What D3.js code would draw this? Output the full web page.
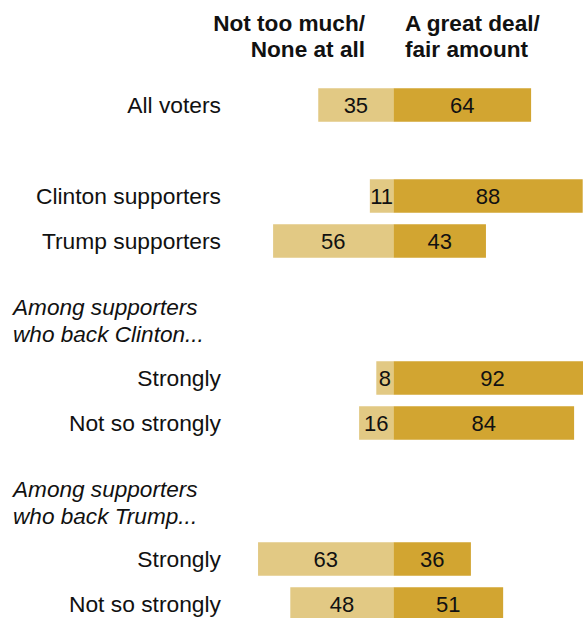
<!DOCTYPE html>
<html>
<head>
<meta charset="utf-8">
<script src="https://cdn.jsdelivr.net/npm/d3@7"></script>
<style>
  body { margin: 0; background: #fff; }
  svg text { font-family: "Liberation Sans", Roboto, sans-serif; fill: #111; }
</style>
</head>
<body>
<svg id="chart" width="583" height="618"></svg>
<script>
// Row labels, grouped into sections with italic intros
const categories = ["All voters", "Clinton supporters", "Trump supporters",
                    "Strongly (Clinton)", "Not so strongly (Clinton)",
                    "Strongly (Trump)", "Not so strongly (Trump)"];
const displayLabels = ["All voters", "Clinton supporters", "Trump supporters",
                       "Strongly", "Not so strongly", "Strongly", "Not so strongly"];
const notTooMuch = [35, 11, 56, 8, 16, 63, 48];
const greatDeal  = [64, 88, 43, 92, 84, 36, 51];
const sectionNotes = [
  ["Among supporters", "who back Clinton..."],
  ["Among supporters", "who back Trump..."]
];
const headers = { left: ["Not too much/", "None at all"], right: ["A great deal/", "fair amount"] };

const svg = d3.select("#chart");
const centerX = 393.5;
const pxPerUnit = 2.15;

// Vertical centers of each row
const rowCenters = [105, 196, 241, 378, 423, 559, 604];
const yPos = d3.scaleOrdinal().domain(categories).range(rowCenters);
const barH = 33.5;

const xRight = d3.scaleLinear().domain([0, 100]).range([centerX, centerX + 100 * pxPerUnit]);
const xLeft = d3.scaleLinear().domain([0, 100]).range([centerX, centerX - 100 * pxPerUnit]);

const lightColor = "#e2c984";
const darkColor = "#d2a531";
const fs = 22;

// Column headers
const hdr = svg.append("g").attr("font-weight", "bold").attr("font-size", 22.6);
headers.left.forEach((t, i) => {
  hdr.append("text").attr("x", 365).attr("y", 31 + i * 26).attr("text-anchor", "end").text(t);
});
headers.right.forEach((t, i) => {
  hdr.append("text").attr("x", 405).attr("y", 31 + i * 26).attr("text-anchor", "start").text(t);
});

// Bars
const rows = categories.map((c, i) => ({ c, label: displayLabels[i], l: notTooMuch[i], r: greatDeal[i] }));
const g = svg.append("g");

g.selectAll("rect.left").data(rows).join("rect")
  .attr("class", "left")
  .attr("x", d => xLeft(d.l))
  .attr("y", d => yPos(d.c) - barH / 2)
  .attr("width", d => xLeft(0) - xLeft(d.l))
  .attr("height", barH)
  .attr("fill", lightColor);

g.selectAll("rect.right").data(rows).join("rect")
  .attr("class", "right")
  .attr("x", xRight(0))
  .attr("y", d => yPos(d.c) - barH / 2)
  .attr("width", d => xRight(d.r) - xRight(0))
  .attr("height", barH)
  .attr("fill", darkColor);

// Value labels
g.selectAll("text.lv").data(rows).join("text")
  .attr("class", "lv")
  .attr("x", d => (xLeft(d.l) + xLeft(0)) / 2)
  .attr("y", d => yPos(d.c) + 8)
  .attr("text-anchor", "middle")
  .attr("font-size", fs)
  .text(d => d.l);

g.selectAll("text.rv").data(rows).join("text")
  .attr("class", "rv")
  .attr("x", d => (xRight(0) + xRight(d.r)) / 2)
  .attr("y", d => yPos(d.c) + 8)
  .attr("text-anchor", "middle")
  .attr("font-size", fs)
  .text(d => d.r);

// Row labels
g.selectAll("text.rl").data(rows).join("text")
  .attr("class", "rl")
  .attr("x", 221)
  .attr("y", d => yPos(d.c) + 8)
  .attr("text-anchor", "end")
  .attr("font-size", 22.8)
  .text(d => d.label);

// Italic section intros
const noteBaselines = [315, 497];
sectionNotes.forEach((lines, k) => {
  lines.forEach((t, i) => {
    svg.append("text").attr("x", 13).attr("y", noteBaselines[k] + i * 27)
      .attr("font-size", 22.6).attr("font-style", "italic")
      .text(t);
  });
});
</script>
</body>
</html>
